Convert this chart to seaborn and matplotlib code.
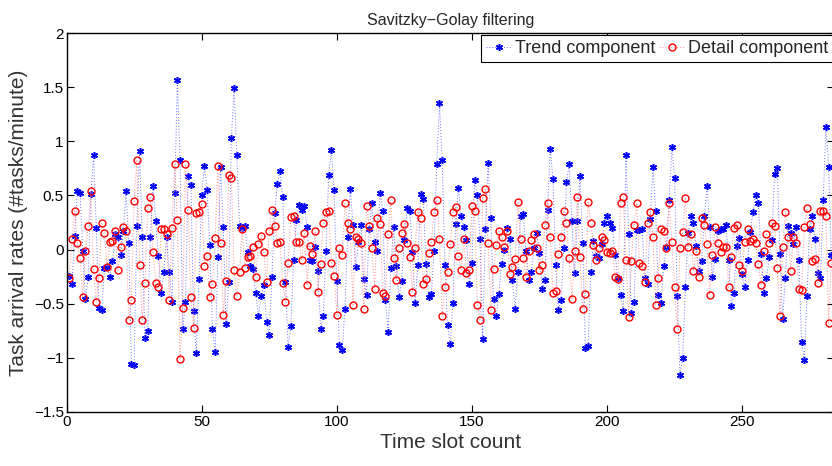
import numpy as np
import matplotlib
matplotlib.use("Agg")
from matplotlib import pyplot as plt
import seaborn as sns

# values, slot 1..283
trend = [
    -0.24, -0.32, 0.13, 0.54, 0.52, -0.01, -0.46, -0.25, 0.51, 0.87, 0.20, -0.54, -0.56, -0.17, -0.16, -0.25, -0.11,
    0.14, 0.12, -0.05, 0.17, 0.54, 0.06, -1.06, -1.07, 0.22, 0.91, 0.12, -0.82, -0.75, 0.12, 0.59, 0.26, -0.06,
    -0.40, -0.21, 0.12, -0.21, -0.48, 0.52, 1.57, 0.83, -0.73, -0.48, 0.68, 0.60, -0.57, -0.96, -0.27, 0.50, 0.77,
    0.55, 0.04, -0.73, -0.95, -0.07, 0.76, 0.21, -0.69, -0.30, 1.03, 1.49, 0.87, 0.22, 0.20, 0.22, -0.02, -0.15,
    -0.18, -0.40, -0.61,
    -0.43, -0.33, -0.67, -0.79, -0.25, 0.34, 0.61, 0.73, 0.49, -0.30, -0.90, -0.71, -0.10, 0.27, 0.41, 0.37, 0.40,
    0.21, -0.10, -0.11, 0.02, -0.20, -0.73, -0.61, -0.01, 0.69, 0.92, 0.55, -0.29, -0.88, -0.93, -0.55, 0.12, 0.56,
    0.23, -0.16,
    0.07, 0.23, -0.27, -0.42, 0.19, 0.43, 0.07, -0.01, 0.52, 0.36, -0.47, -0.76, -0.17, 0.21, -0.15, -0.44, -0.29,
    0.09, 0.38, 0.36, -0.02, -0.49, -0.14, 0.51, 0.47, -0.13, -0.44, -0.41, -0.01, 0.79, 1.35, 0.83, -0.14, -0.70,
    -0.87,
    -0.49, 0.24, 0.57, 0.31, 0.21, 0.09, -0.32, -0.12, 0.64, 0.50, 0.10, -0.83, 0.19, 0.80, 0.29, -0.46, -0.61,
    -0.41, -0.13, 0.00, 0.20, 0.10, -0.28, -0.55, -0.21, 0.31, 0.33, -0.01, -0.28, -0.21, 0.01, 0.15, -0.03, -0.36,
    -0.28, 0.37,
    0.93, 0.65, -0.14, -0.56, -0.47, 0.01, 0.62, 0.79, 0.26, -0.22, 0.26, 0.68, 0.06, -0.91, -0.89, -0.21, 0.08,
    -0.06, -0.08, 0.05, 0.25, 0.31, 0.25, 0.20, -0.05, -0.26, -0.42, -0.57, 0.87, 0.14, -0.59, -0.48, 0.18, 0.18,
    0.19,
    -0.26, -0.32, 0.28, 0.76, 0.36, -0.42, -0.49, -0.15, 0.02, 0.46, 0.95, 0.66, -0.43, -1.16, -1.00, -0.35, 0.15,
    0.31, 0.25, 0.03, -0.20, -0.11, 0.31, 0.59, 0.21, -0.25, -0.09, 0.17, 0.19, 0.19, 0.23, -0.10, -0.52, -0.40,
    0.03, 0.11,
    -0.23, -0.35, -0.10, 0.16, 0.35, 0.50, 0.43, -0.04, -0.40, -0.26, -0.07, 0.09, 0.70, 0.75, -0.04, -0.64, -0.26,
    0.22, 0.15, 0.05, 0.21, -0.10, -0.85, -1.02, -0.43, 0.19, 0.31, 0.10, -0.22, -0.26, 0.46, 1.13, 0.76, -0.05,
]

detail = [
    -0.26, 0.10, 0.36, 0.06, -0.08, -0.44, -0.01, 0.22, 0.54, -0.18, -0.48, -0.26, 0.25, 0.15, -0.16, 0.07, 0.08,
    0.17, -0.19, 0.02, 0.21, 0.17, -0.65, -0.47, 0.45, 0.83, -0.14, -0.65, -0.31, 0.38, 0.49, -0.02, -0.31, -0.35,
    0.19, 0.19, 0.14, -0.47, 0.20, 0.79, 0.27, -1.01, -0.54, 0.79, 0.37, -0.44, -0.72, 0.34, 0.35, 0.42, -0.15,
    -0.06, -0.44, -0.32, 0.11, 0.77, 0.06, -0.60, -0.29, 0.69, 0.66, -0.19, -0.43, -0.21, 0.19, -0.17, -0.07, -0.06,
    0.02, -0.25, 0.05, 0.13,
    -0.02, -0.30, 0.17, 0.37, 0.22, 0.06, 0.07, -0.31, -0.48, -0.12, 0.30, 0.31, 0.07, 0.07, -0.10, 0.15, -0.33,
    0.03, -0.04, 0.17, -0.39, -0.13, 0.25, 0.35, 0.36, -0.12, -0.24, -0.60, 0.01, -0.05, 0.43, 0.25, 0.19, -0.51,
    0.12,
    0.10, 0.06, -0.55, 0.40, 0.22, 0.01, -0.36, 0.29, 0.24, -0.40, -0.43, 0.14, 0.46, -0.08, -0.28, 0.01, 0.15,
    0.24, 0.06, -0.07, -0.39, 0.01, 0.35, 0.29, -0.32, -0.27, -0.03, 0.07, 0.35, 0.46, 0.10, -0.61, -0.35, -0.21,
    0.05, 0.35, 0.39, -0.06, -0.19, 0.10, -0.22, -0.19, 0.40, 0.36, -0.51, -0.65, 0.48, 0.56, 0.06, -0.56, -0.18,
    0.04, 0.17, 0.12, 0.02, 0.17, -0.23, -0.16, -0.09, 0.44, 0.10, -0.08, -0.25, -0.01, 0.09, 0.14, 0.01, -0.19,
    -0.14, 0.23, 0.43,
    0.12, -0.40, -0.38, -0.04, 0.12, 0.36, 0.25, -0.08, -0.46, -0.01, 0.49, -0.07, -0.55, -0.41, 0.44, 0.25, 0.04,
    -0.10, 0.01, 0.12, 0.09, -0.02, -0.03, -0.01, -0.25, -0.27, 0.43, 0.49, -0.10, -0.62, -0.11, 0.23, 0.43, -0.12,
    -0.15,
    -0.30, 0.25, 0.35, 0.12, -0.51, -0.26, 0.19, 0.17, 0.01, 0.43, 0.07, -0.35, -0.73, 0.01, 0.16, 0.48, 0.02,
    0.14, -0.20, -0.01, -0.25, 0.29, 0.23, 0.05, -0.42, -0.05, 0.21, 0.06, -0.02, 0.02, 0.02, -0.35, -0.07, 0.20,
    0.23, -0.14,
    -0.20, 0.07, 0.19, 0.08, 0.10, 0.06, -0.13, -0.33, -0.01, 0.14, 0.06, 0.25, 0.22, -0.17, -0.61, 0.02, 0.35,
    0.12, -0.20, 0.12, 0.06, -0.36, -0.37, 0.21, 0.38, 0.24, -0.11, -0.09, -0.31, 0.36, 0.36, 0.31, -0.68, -0.12,
]

slots = np.arange(1, len(trend) + 1)
xticks = [0, 50, 100, 150, 200, 250]
yticks = [-1.5, -1, -0.5, 0, 0.5, 1, 1.5, 2]
ytick_labels = ["\u22121.5", "\u22121", "\u22120.5", "0", "0.5", "1", "1.5", "2"]

sns.set_style("ticks")
plt.rcParams['font.family'] = ['Liberation Sans', 'DejaVu Sans']

fig, ax = plt.subplots(figsize=(8.32, 4.66), dpi=100)
fig.subplots_adjust(left=0.080, right=1.0024, top=0.929, bottom=0.116)

sns.lineplot(x=slots, y=trend, ax=ax, sort=False, errorbar=None,
             color='#6f6fff', linestyle=(0, (1, 2)), linewidth=0.7,
             marker=(6, 2, 0), markersize=5, markeredgewidth=1.1,
             markeredgecolor='blue', markerfacecolor='blue',
             label='Trend component')
sns.lineplot(x=slots, y=detail, ax=ax, sort=False, errorbar=None,
             color='#ff8a8a', linestyle=(0, (1, 2)), linewidth=0.7,
             marker='o', markersize=5, markeredgewidth=1.0,
             markeredgecolor='red', markerfacecolor='none',
             label='Detail component')

ax.set_xlim(0, 284)
ax.set_ylim(-1.5, 2)
ax.set_xticks(xticks)
ax.set_yticks(yticks)
ax.set_yticklabels(ytick_labels)
ax.tick_params(direction='in', top=True, right=True, length=5, width=0.8,
               labelsize=11, pad=2, colors='black')
for s in ax.spines.values():
    s.set_linewidth(1.0)
    s.set_color('black')

ax.set_title("Savitzky\u2212Golay filtering", fontsize=11.5)
ax.set_xlabel("Time slot count", fontsize=15, color='#333333', labelpad=3)
ax.set_ylabel("Task arrival rates (#tasks/minute)", fontsize=15, color='#333333', labelpad=4)

leg = ax.legend(loc='upper left', bbox_to_anchor=(0.540, 0.996), ncol=2, fontsize=13,
                frameon=True, fancybox=False, edgecolor='black', framealpha=1,
                borderpad=0.3, handlelength=1.4, handletextpad=0.2, columnspacing=0.2,
                borderaxespad=0.0)
leg.get_frame().set_linewidth(0.8)

plt.savefig("out.png", dpi=100)
